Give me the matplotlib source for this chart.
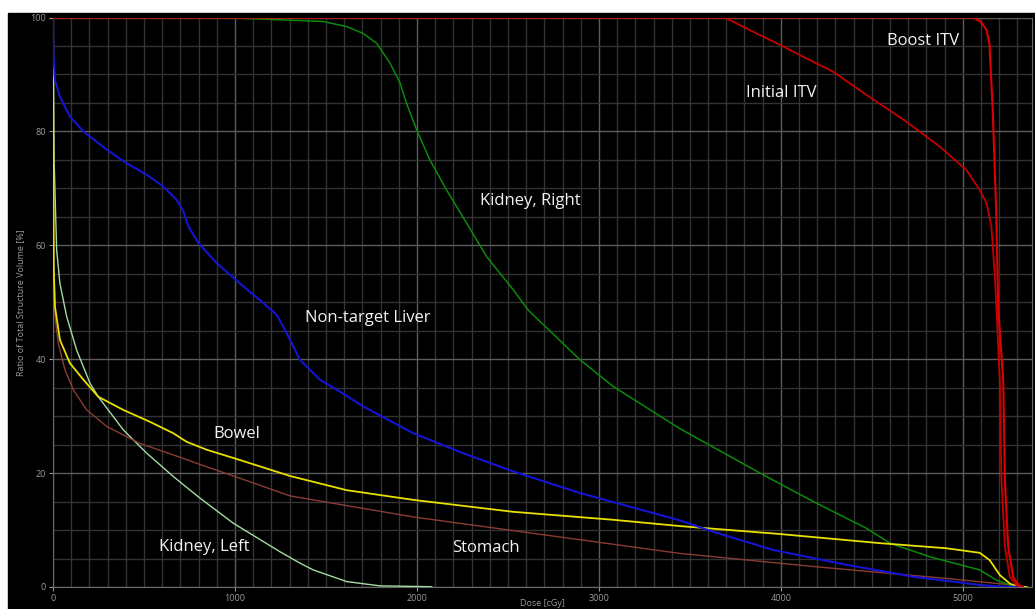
import numpy as np
import matplotlib
matplotlib.use('Agg')
import matplotlib.pyplot as plt
from matplotlib.patches import Rectangle
from matplotlib.ticker import MultipleLocator

plt.rcParams['font.family'] = ['Open Sans', 'DejaVu Sans']

# dose-volume histogram values (dose in cGy, volume in %)
boost_dose = [0, 5000, 5055, 5097, 5130, 5146, 5164, 5183, 5195, 5222, 5231, 5249, 5276, 5304, 5330]
boost_vol = [100, 100, 100, 99.3, 97.8, 95.5, 83.8, 66.2, 48.6, 36.3, 18.8, 7.1, 1.8, 0.35, 0]

initial_dose = [0, 3692, 3866, 3995, 4104, 4286, 4471, 4690, 4874, 5020, 5093, 5130, 5157, 5176,
                5185, 5203, 5212, 5231, 5258, 5295, 5330]
initial_vol = [100, 100, 97.2, 95.2, 93.4, 90.5, 86.4, 81.7, 77.3, 73.2, 69.7, 67.4, 63.3, 54.5,
               48.6, 36.3, 18.8, 7.1, 1.8, 0.3, 0]

kidney_r_dose = [0, 800, 1000, 1247, 1485, 1614, 1705, 1778, 1852, 1907, 1943, 1998, 2071, 2163,
                 2273, 2383, 2529, 2612, 2896, 3079, 3445, 3903, 4178, 4471, 4599, 4819, 5093,
                 5185, 5258, 5300]
kidney_r_vol = [100, 100, 99.9, 99.6, 99.3, 98.4, 97.2, 95.5, 92.0, 88.5, 84.9, 80.3, 75.0, 69.7,
                63.9, 58.0, 52.2, 48.6, 39.9, 35.2, 27.8, 19.7, 15.0, 10.3, 7.7, 5.3, 3.0,
                1.2, 0.35, 0]

liver_dose = [0, 2, 11, 38, 93, 167, 295, 405, 515, 606, 679, 716, 744, 799, 899, 1027, 1136,
              1229, 1284, 1357, 1467, 1577, 1705, 1980, 2254, 2529, 2896, 3445, 3628, 3958,
              4361, 4727, 5093, 5200, 5300]
liver_vol = [100, 93.7, 89, 86.1, 82.6, 80, 76.8, 74.4, 72.4, 70.3, 68, 66, 63.3, 60.4, 56.9,
             53.3, 50.4, 47.8, 44.6, 39.9, 36.4, 34.3, 31.7, 27.0, 23.5, 20.3, 16.5, 11.7, 9.7,
             6.5, 3.9, 1.8, 0.35, 0.1, 0]

bowel_dose = [0, 4, 11, 38, 93, 167, 249, 386, 533, 661, 734, 845, 1027, 1302, 1614, 1980, 2529,
              3079, 3445, 3995, 4544, 4910, 5093, 5148, 5203, 5258, 5300, 5350]
bowel_vol = [100, 56, 49.2, 43.4, 39.3, 36.4, 33.4, 31.1, 29.0, 27.0, 25.5, 24.1, 22.3, 19.5,
             17.0, 15.3, 13.2, 11.8, 10.7, 9.3, 7.7, 6.8, 6.0, 4.7, 2.1, 0.6, 0.1, 0]

stomach_dose = [0, 3, 11, 29, 66, 112, 185, 295, 478, 661, 845, 1027, 1302, 1980, 2713, 3445,
                4178, 4910, 5275, 5320]
stomach_vol = [100, 58, 47.5, 42.8, 38.1, 34.6, 31.1, 28.2, 25.2, 23.2, 21.1, 19.1, 16.0, 12.3,
               9.1, 5.9, 3.6, 1.5, 0.35, 0]

kidney_l_dose = [0, 6, 20, 38, 75, 130, 203, 249, 386, 515, 661, 808, 991, 1247, 1357, 1430,
                 1614, 1797, 2081]
kidney_l_vol = [100, 75, 59.2, 53.3, 47.5, 41.6, 35.8, 33.4, 27.6, 23.5, 19.4, 15.6, 11.2, 6.2,
                4.2, 3.0, 0.95, 0.2, 0.05]

labels = ['Boost ITV', 'Initial ITV', 'Kidney, Right', 'Non-target Liver', 'Bowel',
          'Kidney, Left', 'Stomach']
label_x = [4582, 3806, 2346, 1385, 881, 584, 2196]
label_y = [95.2, 86.0, 67.1, 46.6, 26.2, 6.4, 6.1]

fig = plt.figure(figsize=(10.35, 6.09), dpi=100, facecolor='white')
fig.add_artist(Rectangle((8 / 1035, 0), 1, 596 / 609, transform=fig.transFigure,
                         color='black', zorder=-10))
ax = fig.add_axes([53 / 1035, 22 / 609, 979 / 1035, 569.5 / 609])
ax.set_facecolor('black')

ax.plot(kidney_l_dose, kidney_l_vol, color='#a3dca3', lw=1.0, zorder=3)
ax.plot(stomach_dose, stomach_vol, color='#8a3c34', lw=1.0, zorder=3)
ax.plot(kidney_r_dose, kidney_r_vol, color='#0b8a0b', lw=1.1, zorder=3)
ax.plot(bowel_dose, bowel_vol, color='#e8e000', lw=1.3, zorder=4)
ax.plot(liver_dose, liver_vol, color='#1414d2', lw=1.5, zorder=5)
ax.plot(initial_dose, initial_vol, color='#c40000', lw=1.3, zorder=6)
ax.plot(boost_dose, boost_vol, color='#e00000', lw=1.5, zorder=7)

for t, x, y in zip(labels, label_x, label_y):
    ax.text(x, y, t, color='#f2f2f2', fontsize=12, ha='left', va='baseline', zorder=8)

ax.set_xlim(0, 5380)
ax.set_ylim(0, 100)
ax.xaxis.set_major_locator(MultipleLocator(1000))
ax.xaxis.set_minor_locator(MultipleLocator(100))
ax.yaxis.set_major_locator(MultipleLocator(20))
ax.yaxis.set_minor_locator(MultipleLocator(5))
ax.grid(which='major', color='#5c5c5c', linewidth=1.0, zorder=0)
ax.grid(which='minor', color='#333333', linewidth=1.0, zorder=0)
ax.set_axisbelow(True)

ax.tick_params(which='major', colors='#9a9a9a', labelsize=6.5, length=3, width=0.8, pad=2)
ax.tick_params(which='minor', length=0)
for s in ['left', 'bottom', 'right']:
    ax.spines[s].set_color('#6a6a6a')
ax.spines['top'].set_visible(False)

ax.set_xlabel('Dose [cGy]', color='#9a9a9a', fontsize=6.5, va='center')
ax.xaxis.set_label_coords(0.5, -0.029)
ax.set_ylabel('Ratio of Total Structure Volume [%]', color='#9a9a9a', fontsize=6.5, labelpad=4)

fig.savefig('out.png', dpi=100, facecolor='white')
